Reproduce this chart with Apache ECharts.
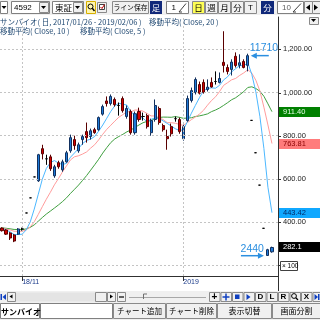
<!DOCTYPE html>
<html><head><meta charset="utf-8">
<script src="https://cdn.jsdelivr.net/npm/echarts@6/dist/echarts.min.js"></script>
<style>html,body{margin:0;padding:0;background:#fff}#c{width:320px;height:320px}</style>
</head><body><div id="c"></div>
<script>
// ---- data (price units: axis value = yen / 10) ----
const dates = [
'2018/10/25','2018/10/26','2018/10/29','2018/10/30','2018/10/31',
'2018/11/01','2018/11/02','2018/11/05','2018/11/06','2018/11/07','2018/11/08','2018/11/09','2018/11/12','2018/11/13','2018/11/14','2018/11/15','2018/11/16','2018/11/19','2018/11/20','2018/11/21','2018/11/22','2018/11/26','2018/11/27','2018/11/28','2018/11/29','2018/11/30',
'2018/12/03','2018/12/04','2018/12/05','2018/12/06','2018/12/07','2018/12/10','2018/12/11','2018/12/12','2018/12/13','2018/12/14','2018/12/17','2018/12/18','2018/12/19','2018/12/20','2018/12/21','2018/12/25','2018/12/26','2018/12/27','2018/12/28',
'2019/01/04','2019/01/07','2019/01/08','2019/01/09','2019/01/10','2019/01/11','2019/01/15','2019/01/16','2019/01/17','2019/01/18','2019/01/21','2019/01/22','2019/01/23','2019/01/24','2019/01/25','2019/01/28','2019/01/29','2019/01/30','2019/01/31',
'2019/02/01','2019/02/04','2019/02/05','2019/02/06'];
const opens = [372,363,349,340,344,
 368,442,512,609,591,740,693,702,614,675,642,679,730,782,730,782,819,796,828,828,900,
 961,949,968,940,972,889,912,814,912,889,893,814,875,926,847,796,842,879,875,
 786,870,963,1000,1037,1047,1014,1047,1051.1,1047,1140,1116,1107,1168,1126,1144,1126,871,721,
 571,371,245,262];
const highs = [376,367,353,344,372,
 374,442,512,609,716,758,712,712,665,684,689,730,805,800,768,805,861,833,837,889,944,
 982,991,977,954,982,940,921,912,930,907,902,879,968,935,856,828,856,889,884,
 851,986,1023,1070,1051,1061,1061,1070,1098,1093,1284,1130,1154,1186,1177,1154,1180,871,721,
 571,371,276,286];
const lows = [356,340,317,307,340,
 360,442,512,609,586,690,665,637,605,647,633,675,721,735,721,758,768,782,809,823,893,
 935,940,935,893,907,879,805,805,865,870,833,800,865,851,819,735,796,865,809,
 777,865,954,991,991,995,1005,1023,1037,1042,1093,1084,1079,1116,1112,1112,1098,871,721,
 571,371,244,258];
const closes = [360,344,326,312,368,
 368,442,512,609,712,716,693,647,656,656,679,721,791,754,758,796,791,823,814,884,935,
 949,982,944,940,916,926,814,902,875,889,842,870,940,861,828,786,809,879,819,
 842,972,1009,1060.5,997,1001,1025,1026,1051.1,1065,1125.6,1097.7,1141,1125,1138,1116,1171,871,721,
 571,371,272,282.1];
// closes before the visible window (estimated), needed for the moving averages
const priorCloses = [378,375,372,376,379,374,371,373,377,374,370,372,375,371,369,373,376,372,370];
const gridValues = [200,400,600,800,1000,1200];
const yLabelValues = [400,600,800,1000,1200];
const xLabelDates = ['2018/11/01','2019/01/04'];
const xLabelTexts = ['18/11','2019'];
const maPeriods = [20,10,5];
const maColors = ['#3f9f3f','#ff9c9c','#4cb8ff'];
const boxColors = [['#008000','#e6ffe6'],['#ff7c7c','#8a0000'],['#10a8ff','#002a66']];

const all = priorCloses.concat(closes);
function ma(n){
  const off = priorCloses.length;
  return closes.map((_,k)=>{let s=0;for(let j=k+off-n+1;j<=k+off;j++)s+=all[j];return +(s/n).toFixed(3);});
}
const maData = maPeriods.map(ma);
const cats = dates.concat(['']);
function fmtPrice(v,d){const s=v.toFixed(d);const p=s.split('.');return p[0].replace(/\B(?=(\d{3})+(?!\d))/g,',')+(p[1]!==undefined?'.'+p[1]:'');}

const chart = echarts.init(document.getElementById('c'), null, {renderer:'canvas'});
const series = maPeriods.map((n,idx)=>({
  type:'line', data:maData[idx], symbol:'none', showSymbol:false, silent:true,
  lineStyle:{color:maColors[idx], width:1}, z:2, animation:false
}));
series.push({
  type:'candlestick', barWidth:2.6, z:3, silent:true, animation:false,
  data: dates.map((d,k)=>[opens[k],closes[k],lows[k],highs[k]]),
  itemStyle:{color:'#1e7ad8', color0:'#d40000', borderColor:'#12305e', borderColor0:'#5a0000', borderColorDoji:'#000', borderWidth:1}
});
series.push({
  type:'line', data:[], silent:true, animation:false,
  markLine:{silent:true, symbol:'none', label:{show:false}, animation:false,
    lineStyle:{color:'#c4c4c4', type:[2,2], width:1},
    data: gridValues.map(v=>({yAxis:v})).concat(xLabelDates.map(d=>({xAxis:d})))}
});

const option = {
  animation:false,
  backgroundColor:'#fff',
  grid:{left:0, right:42, top:17, bottom:44, containLabel:false, outerBoundsMode:'none'},
  xAxis:{type:'category', data:cats, boundaryGap:true,
    axisLine:{show:true, lineStyle:{color:'#303030', width:1}},
    axisTick:{show:true, alignWithLabel:true, length:5, interval:(i,v)=>xLabelDates.includes(v), lineStyle:{color:'#303030'}},
    axisLabel:{show:true, interval:(i,v)=>xLabelDates.includes(v), formatter:v=>{const k=xLabelDates.indexOf(v);return k>=0?xLabelTexts[k]:'';},
      align:'left', margin:3, fontSize:7, color:'#1a3a8a', fontFamily:'Liberation Sans'},
    splitLine:{show:false}},
  yAxis:{type:'value', position:'right', min:150, max:1350, interval:50, scale:false,
    axisLine:{show:true, lineStyle:{color:'#303030', width:1}},
    axisTick:{show:false}, splitLine:{show:false},
    axisLabel:{show:true, margin:5, fontSize:7.5, color:'#202020', fontFamily:'Liberation Sans',
      formatter:v=>yLabelValues.includes(v)?fmtPrice(v,2):''}},
  series
};
chart.setOption(option);

// ---- UI chrome & annotations ----
const G=[];
const CJK='"Noto Sans CJK JP", sans-serif';
function R(x,y,w,h,fill,stroke,z){G.push({type:'rect',silent:true,z:z||100,shape:{x,y,width:w,height:h},style:{fill:fill||'none',stroke:stroke||null,lineWidth:1}});}
function T(x,y,s,o){o=o||{};G.push({type:'text',silent:true,z:o.z||102,style:{text:s,x,y,fill:o.c||'#000',
  font:(o.w||'normal')+' '+(o.s||8)+'px '+(o.f||CJK),align:o.a||'left',textAlign:o.a||'left',verticalAlign:'middle',textVerticalAlign:'middle'}});}
function P(pts,fill,z){G.push({type:'polygon',silent:true,z:z||102,shape:{points:pts},style:{fill}});}
function L(x1,y1,x2,y2,c,w,z){G.push({type:'line',silent:true,z:z||102,shape:{x1,y1,x2,y2},style:{stroke:c,lineWidth:w||1}});}
function C(cx,cy,r,c){G.push({type:'circle',silent:true,z:102,shape:{cx,cy,r},style:{fill:'none',stroke:c,lineWidth:1}});}
function down(cx,cy,c){P([[cx-2.5,cy-1.5],[cx+2.5,cy-1.5],[cx,cy+1.5]],c||'#000');}
function btn(x,y,w,h,label,o){R(x+0.5,y+0.5,w,h,(o&&o.bg)||'#f0f0f0',(o&&o.bd)||'#8a8a8a');if(label)T(x+w/2+0.5,y+h/2+0.5,label,Object.assign({a:'center'},o||{}));}

// top toolbar
R(0,0,320,15,'#f0f0f0',null,99);
R(0.5,1.5,7,12,'#fff','#808080'); down(4,7.5);
R(11.5,1.5,38,12,'#fff','#808080'); T(14,7.5,'4592',{s:8,f:'Liberation Sans'});
btn(39,2,9,10,''); down(43.5,7.5);
R(52.5,1.5,31,12,'#fff','#808080'); T(55,7.5,'東証',{s:8.5});
btn(73,2,9,10,''); down(77.5,7.5);
R(86.5,1.5,9,12,'#fff6b0','#d8b000'); C(90.5,6.5,2.5,'#000'); L(92.3,8.3,94.5,11,'#000',1.4);
btn(97,2,9,10,''); R(99.5,4.5,5,5,'#fff','#404040'); L(100.5,7,102,8.5,'#c00000',1); L(102,8.5,104.5,4.5,'#c00000',1);
btn(112,1,36,12,'ライン保存',{s:6.8});
R(150,1,12,13,'#10287a',null); T(156,7.5,'足',{s:8.5,c:'#fff',a:'center'});
R(166.5,1.5,22,12,'#fff','#808080'); T(176,7.5,'1',{s:8,f:'Liberation Sans',a:'right'}); L(179,12,186,3.5,'#404040',1); L(179,12,182,12,'#404040',1);
btn(192,1,12,12,'日',{bg:'#ffff55',s:8.5});
btn(205,1,12,12,'週',{s:8.5});
btn(218,1,12,12,'月',{s:8.5});
btn(231,1,12,12,'分',{s:8.5});
btn(244,1,12,12,'T',{s:8,f:'Liberation Sans'});
R(261,1,13,13,'#10287a',null); T(267.5,7.5,'分',{s:8.5,c:'#fff',a:'center'});
R(277.5,1.5,26,12,'#fff','#808080'); T(291,7.5,'10',{s:8,f:'Liberation Sans',a:'right',c:'#606060'}); L(293,12,301,3.5,'#404040',1); L(293,12,296,12,'#404040',1);
btn(304,1,8,12,''); P([[306,7.5],[310,4.5],[310,10.5]],'#000');
btn(312,1,8,12,''); P([[318,7.5],[314,4.5],[314,10.5]],'#000');
// small menu button
btn(309,17,9,7,''); down(313.5,20.5);

// header texts
T(0,22,'サンバイオ( 日, 2017/01/26 - 2019/02/06 )',{s:7.5,c:'#1d4670'});
T(149,22,'移動平均( Close, 20 )',{s:7.5,c:'#1d4670'});
T(0,31,'移動平均( Close, 10 )',{s:7.5,c:'#1d4670'});
T(80,31,'移動平均( Close, 5 )',{s:7.5,c:'#1d4670'});

// y ticks and value boxes
const ax = chart.convertToPixel({xAxisIndex:0,yAxisIndex:0},[0,gridValues[0]])[0];
gridValues.forEach(v=>{const y=Math.round(chart.convertToPixel({yAxisIndex:0},v))+0.5;L(278,y,281,y,'#303030',1);});
L(278.5,276,278.5,291,'#303030',1,103);
R(280.5,261.5,17,9,'#fff','#404040',104); T(282,266.2,'× 100',{s:6.5,f:'Liberation Sans',z:105});
maPeriods.forEach((n,idx)=>{
  const v = maData[idx][maData[idx].length-1];
  const y = chart.convertToPixel({yAxisIndex:0},v);
  R(279,Math.round(y)-5,41,10,boxColors[idx][0],null,104);
  T(283,Math.round(y),fmtPrice(v,2),{s:7.5,f:'Liberation Sans',c:boxColors[idx][1],z:105});
});
{
  const v = closes[closes.length-1];
  const y = chart.convertToPixel({yAxisIndex:0},v);
  R(279,Math.round(y)-5,41,10,'#000',null,104);
  T(283,Math.round(y),fmtPrice(v,1),{s:7.5,f:'Liberation Sans',c:'#fff',z:105});
}
// high / low arrows
{
  let hi=0; closes.forEach((c,k)=>{if(c>closes[hi])hi=k;});
  const p = chart.convertToPixel({xAxisIndex:0,yAxisIndex:0},[hi,closes[hi]]);
  const ac='#2b8fe0';
  T(p[0]+2,p[1]-7.5,String(Math.round(closes[hi]*10)),{s:10.5,f:'Liberation Sans',c:ac});
  L(p[0]+7,p[1],p[0]+21,p[1],ac,1.5); P([[p[0]+3,p[1]],[p[0]+9,p[1]-3],[p[0]+9,p[1]+3]],ac);
  let lo=0; lows.forEach((c,k)=>{if(c<lows[lo])lo=k;});
  const q = chart.convertToPixel({xAxisIndex:0,yAxisIndex:0},[lo,lows[lo]]);
  T(q[0]-4,q[1]-7,String(Math.round(lows[lo]*10)),{s:10.5,f:'Liberation Sans',c:ac,a:'right'});
  L(q[0]-27,q[1],q[0]-9,q[1],ac,1.5); P([[q[0]-4,q[1]],[q[0]-10,q[1]-3],[q[0]-10,q[1]+3]],ac);
}

// scroll row
R(0,291,320,11,'#f0f0f0',null,99);
R(0.5,294,1.5,6,'#1040c0',null,101); P([[6,294],[6,300],[2.5,297]],'#1040c0');
btn(7,292,8,9,''); P([[9.5,296.5],[12.5,294.5],[12.5,298.5]],'#000');
R(16,292.5,79,9,'#e4e4e4',null,100);
btn(95,292,11,9,'');
btn(107,292,8,9,''); P([[113,296.5],[110,294.5],[110,298.5]],'#000');
btn(117,292,8,9,''); L(119,297,124,297,'#000',1.2);
L(129,297.5,206,297.5,'#a8a8a8',1); L(143.5,294,143.5,299,'#707070',1); L(143.5,294,147,294,'#707070',1);
const bx=[209,220.5,232,243.5,255,266.5,278,289.5,301,312.5];
bx.forEach(x=>btn(x,292,10.5,9,''));
T(214.5,297,'+',{s:10,w:'bold',f:'Liberation Sans',a:'center'});
L(222.5,297,229.5,297,'#1040c0',1.5); L(226,293.5,226,300.5,'#1040c0',1.5);
R(235,294.5,4.5,4.5,'#1040c0',null,102);
P([[246.5,294],[246.5,300],[250.5,297]],'#1040c0');
T(260.5,297,'D',{s:8,w:'bold',f:'Liberation Sans',a:'center'});
T(272,297,'L',{s:8,w:'bold',f:'Liberation Sans',a:'center'});
T(283.5,297,'R',{s:8,w:'bold',f:'Liberation Sans',a:'center'});
C(294,296,2.4,'#000'); L(295.8,297.8,298,300,'#000',1.3);
T(306.5,297,'X',{s:8,w:'bold',f:'Liberation Sans',a:'center'});
P([[314.5,294],[314.5,300],[318,297]],'#1040c0'); R(318,294,1.5,6,'#1040c0',null,102);

// bottom row
R(0,302,320,18,'#f0f0f0',null,99);
R(0.5,303.5,39,15,'#fff','#808080',100); T(1,311.5,'サンバイオ',{s:8,w:'bold'});
R(40.5,303.5,72,15,'#fff','#808080',100);
btn(113,303,52,15,'チャート追加',{s:7.5});
btn(166,303,50,15,'チャート削除',{s:7.5});
btn(217,303,54,15,'表示切替',{s:8});
btn(272,303,48,15,'画面分割',{s:8});

chart.setOption({graphic:G});
</script></body></html>
